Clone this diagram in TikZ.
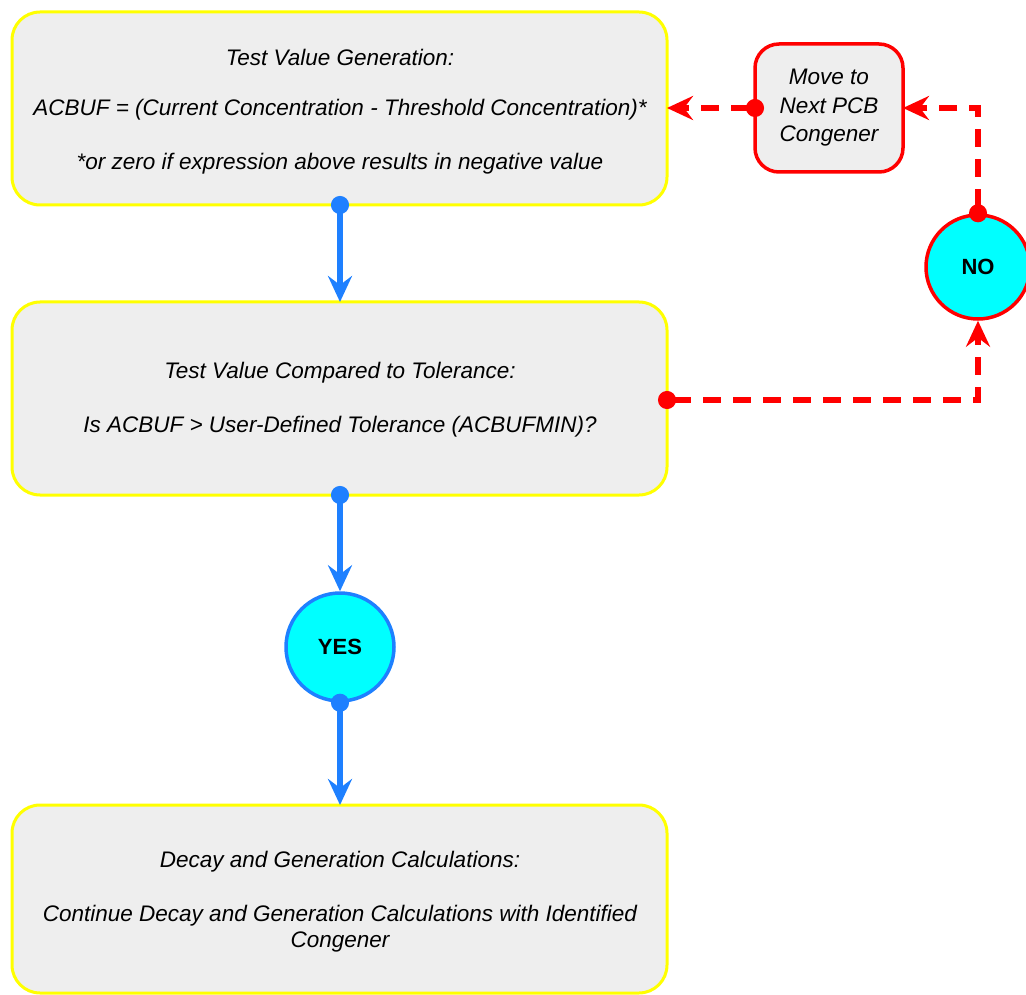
\documentclass[tikz,border=0pt]{standalone}
\usepackage{fontspec}
\setmainfont{Liberation Sans}
\usetikzlibrary{arrows.meta}
\definecolor{boxgrey}{HTML}{EEEEEE}
\definecolor{flowblue}{HTML}{1E80FF}
\definecolor{loopred}{HTML}{FF0000}
\definecolor{ansfill}{HTML}{00FFFF}
\definecolor{edgeyellow}{HTML}{FFFF00}
\tikzset{
  stepbox/.style={draw=edgeyellow, line width=3pt, fill=boxgrey, rounded corners=28pt},
  loopbox/.style={draw=loopred, line width=3.5pt, fill=boxgrey, rounded corners=24pt},
  boxtext/.style={font=\fontsize{22.5}{26}\selectfont\itshape, align=center},
  anscircle/.style={circle, fill=ansfill, line width=3.5pt, font=\fontsize{22}{24}\selectfont\bfseries},
  flowarrow/.style={draw=flowblue, line width=6pt, {Circle[length=18pt]}-{Stealth[length=26pt,width=24pt,inset=9pt]}, shorten <=-9pt},
  looparrow/.style={draw=loopred, line width=5.5pt, dash pattern=on 18pt off 12pt, {Circle[length=18pt]}-{Stealth[length=26pt,width=24pt,inset=9pt]}, shorten <=-9pt}
}
\begin{document}
\begin{tikzpicture}[x=1pt, y=-1pt]
\useasboundingbox (0,0) rectangle (1026,995);

% process boxes
\path[stepbox] (12,12) rectangle (667,205);
\path[stepbox] (12,302) rectangle (667,495);
\path[stepbox] (12,805) rectangle (667,993);
\path[loopbox] (755,44) rectangle (903,172);

\coordinate (b1bot) at (340,205);
\coordinate (b1right) at (667,108);
\coordinate (b2top) at (340,302);
\coordinate (b2bot) at (340,495);
\coordinate (b2right) at (667,400);
\coordinate (b3top) at (340,805);
\coordinate (mvleft) at (755,108);
\coordinate (mvright) at (903,108);

% texts
\node[boxtext] (t1a) at (340,57) {Test Value Generation:};
\node[boxtext] (t1b) at (340,110) {ACBUF = (Current Concentration - Threshold Concentration)*};
\node[boxtext] (t1c) at (340,164) {*or zero if expression above results in negative value};
\node[boxtext] (t2a) at (340,373) {Test Value Compared to Tolerance:};
\node[boxtext] (t2b) at (340,427) {Is ACBUF > User-Defined Tolerance (ACBUFMIN)?};
\node[boxtext] (t3a) at (340,862) {Decay and Generation Calculations:};
\node[boxtext] (t3b) at (340,929) {Continue Decay and Generation Calculations with Identified\\Congener};
\node[boxtext, font=\fontsize{22.5}{28.5}\selectfont\itshape] (mv) at (829,108) {Move to\\Next PCB\\Congener};

% decision circles
\node[anscircle, draw=flowblue, minimum size=108pt] (yes) at (340,647) {YES};
\node[anscircle, draw=loopred, minimum size=104pt] (no) at (978,267) {NO};

% main flow
\draw[flowarrow] (b1bot) -- (b2top);
\draw[flowarrow] (b2bot) -- (yes.north);
\draw[flowarrow] (yes.south) -- (b3top);

% rejection loop
\draw[looparrow] (b2right) -| (no.south);
\draw[looparrow] (no.north) |- (mvright);
\draw[looparrow] (mvleft) -- (b1right);
\end{tikzpicture}
\end{document}
